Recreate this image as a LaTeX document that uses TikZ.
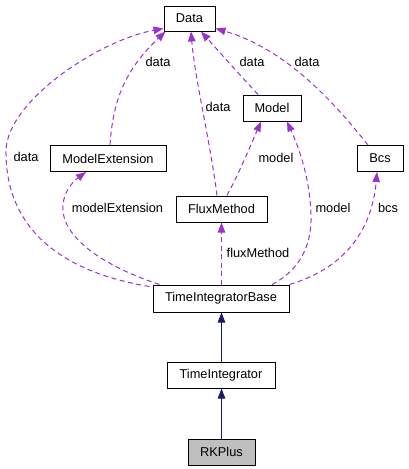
\documentclass[tikz,border=0pt]{standalone}
\usepackage{fontspec}
\setmainfont{Liberation Sans}
\usetikzlibrary{arrows.meta,calc}
\definecolor{edgepurple}{HTML}{9A32CD}
\definecolor{edgenavy}{HTML}{191970}
\definecolor{boxgray}{HTML}{BFBFBF}
\begin{document}
\begin{tikzpicture}[x=1pt,y=-1pt,
  font=\fontsize{12.8}{14}\selectfont,
  cls/.style={draw=black,line width=1pt,fill=white,inner sep=0pt,anchor=center,minimum height=26pt},
  usage/.style={draw=edgepurple,line width=1pt,dash pattern=on 5pt off 3.5pt,
    -{Triangle[length=10pt,width=7.5pt,fill=edgepurple]}},
  inherit/.style={draw=edgenavy,line width=1pt,
    -{Triangle[length=10pt,width=7.5pt,fill=edgenavy]}},
  lbl/.style={inner sep=0pt,anchor=center}]
\useasboundingbox (0,0) rectangle (408,469);
% nodes
\node[cls,minimum width=51pt,minimum height=25pt] (data) at (189.5,18.5) {Data};
\node[cls,minimum width=58pt] (model) at (272,108) {Model};
\node[cls,minimum width=116pt] (mext) at (108,158.5) {ModelExtension};
\node[cls,minimum width=46pt] (bcs) at (380,158.5) {Bcs};
\node[cls,minimum width=91pt] (flux) at (221.5,209) {FluxMethod};
\node[cls,minimum width=136pt,minimum height=27pt] (tib) at (221,298.5) {TimeIntegratorBase};
\node[cls,minimum width=108pt] (ti) at (221,375) {TimeIntegrator};
\node[cls,minimum width=67pt,fill=boxgray] (rk) at (221.5,452) {RKPlus};
% usage edges
\draw[usage] ($(tib.north west)+(-3,2)$) .. controls (50,270) and (5,220) .. (6,150)
   .. controls (8,100) and (100,40) .. ($(data.south west)+(0,-3)$);
\draw[usage] ($(mext.north)+(2,0)$) .. controls (113,100) and (125,70) .. ($(data.south west)+(2,0)$);
\draw[usage] ($(flux.north)+(-4.5,0)$) .. controls (210,140) and (195,80) .. ($(data.south)+(1.5,0)$);
\draw[usage] ($(model.north)+(-14,0)$) .. controls (240,75) .. ($(data.south)+(11.5,0)$);
\draw[usage] ($(bcs.north)+(-12,0)$) .. controls (340,110) and (290,50) .. ($(data.south east)+(0,-3)$);
\draw[usage] ($(flux.north)+(5.5,0)$) .. controls (240,170) .. ($(model.south)+(-11,0)$);
\draw[usage] ($(tib.north)+(51,0)$) .. controls (300,270) and (312,245) .. (311,215)
   .. controls (310,180) and (300,150) .. ($(model.south)+(15,0)$);
\draw[usage] ($(tib.north west)+(7,0)$) .. controls (100,265) and (60,235) .. (63,205)
   .. controls (64,190) and (75,180) .. ($(mext.south)+(-22,0)$);
\draw[usage] (tib.north -| flux.south) -- (flux.south);
\draw[usage] (tib.north east) .. controls (345,268) and (372,230) .. ($(bcs.south)+(-3,0)$);
% labels
\node[lbl] (l1) at (26,157) {data};
\node[lbl] (l2) at (158,62) {data};
\node[lbl] (l3) at (218,107) {data};
\node[lbl] (l4) at (252,62) {data};
\node[lbl] (l5) at (307,62) {data};
\node[lbl] (l6) at (276,158) {model};
\node[lbl] (l7) at (117.5,208) {modelExtension};
\node[lbl] (l8) at (333,208) {model};
\node[lbl] (l9) at (388,208) {bcs};
\node[lbl] (l10) at (258,253) {fluxMethod};
% inheritance
\draw[inherit] ($(ti.north)+(0.5,0)$) -- ($(tib.south)+(0.5,0)$);
\draw[inherit] (rk.north) -- (rk.north |- ti.south);
\end{tikzpicture}
\end{document}
